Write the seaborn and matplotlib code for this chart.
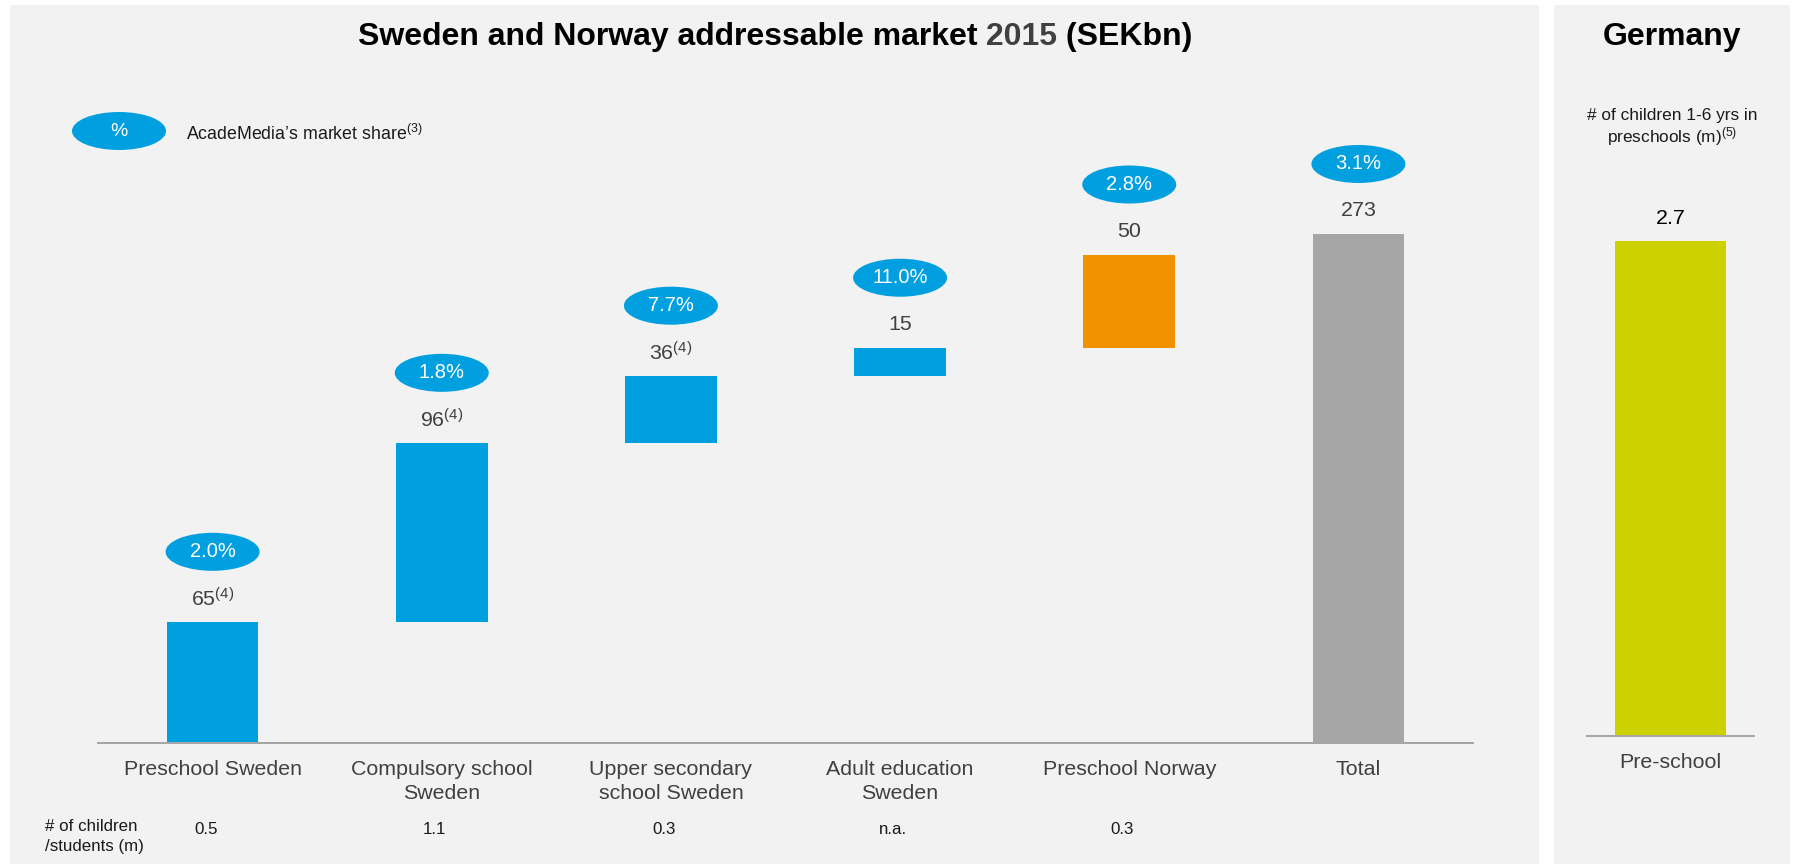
import numpy as np
import pandas as pd
import matplotlib
matplotlib.use("Agg")
import matplotlib.pyplot as plt
import matplotlib.transforms as mtransforms
from matplotlib.patches import Ellipse, Rectangle
import seaborn as sns

# ---- data -------------------------------------------------------------
categories = [
    "Preschool Sweden",
    "Compulsory school\nSweden",
    "Upper secondary\nschool Sweden",
    "Adult education\nSweden",
    "Preschool Norway",
    "Total",
]
market_sekbn = [65, 96, 36, 15, 50, 273]
value_notes = ["(4)", "(4)", "(4)", "", "", ""]
market_share = ["2.0%", "1.8%", "7.7%", "11.0%", "2.8%", "3.1%"]
students_m = ["0.5", "1.1", "0.3", "n.a.", "0.3", ""]

germany_category = ["Pre-school"]
germany_children_m = [2.7]

# ---- styling ----------------------------------------------------------
BLUE = "#009FE0"
ORANGE = "#F39200"
GREY_BAR = "#A6A6A6"
GREEN = "#CCD100"
PANEL_BG = "#F2F2F2"
AXIS_GREY = "#A6A6A6"
TEXT_GREY = "#404040"
TEXT_DARK = "#1A1A1A"
bar_colors = [BLUE, BLUE, BLUE, BLUE, ORANGE, GREY_BAR]

W, H, DPI = 1793, 864, 100
PT = 72.0 / DPI  # points per pixel

sns.set_theme(style="white")
plt.rcParams["font.family"] = ["Liberation Sans", "DejaVu Sans"]
plt.rcParams["mathtext.fontset"] = "custom"
plt.rcParams["mathtext.rm"] = "Liberation Sans"
plt.rcParams["mathtext.it"] = "Liberation Sans:italic"
plt.rcParams["mathtext.bf"] = "Liberation Sans:bold"


def fx(px):
    return px / W


def fy(py):
    # pixel row measured from the top edge -> figure fraction
    return 1.0 - py / H


fig = plt.figure(figsize=(W / DPI, H / DPI), dpi=DPI, facecolor="white")

# grey panel backgrounds (behind the axes)
fig.patches.append(Rectangle((fx(10), 0), fx(1529), 859 / H, transform=fig.transFigure,
                             facecolor=PANEL_BG, edgecolor="none", zorder=-10))
fig.patches.append(Rectangle((fx(1554), 0), fx(236), 859 / H, transform=fig.transFigure,
                             facecolor=PANEL_BG, edgecolor="none", zorder=-10))

# ---- waterfall axes ---------------------------------------------------
AX_L, AX_R, BASE_Y = 98, 1473, 743
Y_MAX = 380
PX_PER_UNIT = 1.8645
ax_h = Y_MAX * PX_PER_UNIT
ax = fig.add_axes([fx(AX_L), fy(BASE_Y), fx(AX_R - AX_L), ax_h / H])
ax.set_facecolor("none")

n = len(categories)
bottoms = list(np.concatenate([[0], np.cumsum(market_sekbn[:n - 2])])) + [0]
df = pd.DataFrame({"category": categories, "value": market_sekbn, "bottom": bottoms})

sns.barplot(data=df, x="category", y="value", hue="category", hue_order=categories,
            order=categories, palette=bar_colors, width=0.4, saturation=1,
            legend=False, ax=ax, edgecolor="none", linewidth=0)

# lift the floating bars onto the running total
for cont, b in zip(ax.containers, df["bottom"]):
    for patch in cont.patches:
        patch.set_y(b)

ax.set_xlim(-0.5, n - 0.5)
ax.set_ylim(0, Y_MAX)
ax.set_xlabel("")
ax.set_ylabel("")
ax.set_yticks([])
for side in ("left", "right", "top"):
    ax.spines[side].set_visible(False)
ax.spines["bottom"].set_color(AXIS_GREY)
ax.spines["bottom"].set_linewidth(2 * PT)
ax.tick_params(axis="x", length=0, pad=12.5, labelsize=15.4, labelcolor=TEXT_GREY)
for lbl in ax.get_xticklabels():
    lbl.set_linespacing(1.3)

px_per_x = (AX_R - AX_L) / n
ell_w = 94 / px_per_x
ell_h = 38 / PX_PER_UNIT

for i, row in df.iterrows():
    top = row["bottom"] + row["value"]
    note = value_notes[i]
    label = f"{row['value']}" + (f"$^{{{note}}}$" if note else "")
    ax.annotate(label, (i, top), xytext=(0, 23 * PT), textcoords="offset points",
                ha="center", va="center", fontsize=15.4, color=TEXT_GREY)
    cy = top + 70 / PX_PER_UNIT
    ax.add_patch(Ellipse((i, cy), ell_w, ell_h, facecolor=BLUE, edgecolor="none",
                         clip_on=False, zorder=3))
    ax.text(i, cy, market_share[i], ha="center", va="center", fontsize=14.5,
            color="white", zorder=4)

# number of children / students row
row_trans = mtransforms.blended_transform_factory(ax.transData, fig.transFigure)
for i, s in enumerate(students_m):
    if s:
        ax.text(i - 0.03, fy(829), s, transform=row_trans, ha="center", va="center",
                fontsize=12.2, color=TEXT_DARK)
fig.text(fx(45), fy(819), "# of children\n/students (m)", ha="left", va="top",
         fontsize=12.2, color=TEXT_DARK, linespacing=1.45)

# legend for the market-share bubbles
fig.patches.append(Ellipse((fx(119), fy(131)), 94 / W, 38 / H, transform=fig.transFigure,
                           facecolor=BLUE, edgecolor="none", zorder=2))
fig.text(fx(119), fy(131), "%", ha="center", va="center", fontsize=14, color="white", zorder=3)
fig.text(fx(186), fy(134), "AcadeMedia\u2019s market share$^{(3)}$", ha="left", va="center",
         fontsize=12.8, color=TEXT_DARK)

# title with a grey year
title_parts = [("Sweden and Norway addressable market", "black"),
               (" 2015", TEXT_GREY),
               (" (SEKbn)", "black")]
texts = []
first = fig.text(0, fy(45), title_parts[0][0], ha="left", va="baseline",
                 fontsize=23, fontweight="bold", color=title_parts[0][1])
texts.append(first)
for txt, col in title_parts[1:]:
    t = fig.text(0, 0, txt, fontsize=23, fontweight="bold", color=col, ha="left", va="bottom")
    texts.append(t)

fig.canvas.draw()
renderer = fig.canvas.get_renderer()
widths = [t.get_window_extent(renderer).width for t in texts]
x0 = 775 - sum(widths) / 2
base = first.get_window_extent(renderer).y0
x = x0
for t, w in zip(texts, widths):
    t.set_transform(mtransforms.IdentityTransform())
    t.set_position((x, base))
    t.set_va("bottom")
    x += w

# ---- Germany panel ----------------------------------------------------
G_L, G_R, G_BASE = 1587, 1754, 736
G_YMAX = 3.5
G_PX_PER_UNIT = 183.3
gax = fig.add_axes([fx(G_L), fy(G_BASE), fx(G_R - G_L), G_YMAX * G_PX_PER_UNIT / H])
gax.set_facecolor("none")
gdf = pd.DataFrame({"category": germany_category, "value": germany_children_m})
sns.barplot(data=gdf, x="category", y="value", color=GREEN, width=0.67, saturation=1,
            ax=gax, edgecolor="none", linewidth=0)
gax.set_xlim(-0.5, 0.5)
gax.set_ylim(0, G_YMAX)
gax.set_xlabel("")
gax.set_ylabel("")
gax.set_yticks([])
for side in ("left", "right", "top"):
    gax.spines[side].set_visible(False)
gax.spines["bottom"].set_color(AXIS_GREY)
gax.spines["bottom"].set_linewidth(2 * PT)
gax.tick_params(axis="x", length=0, pad=12.5, labelsize=15.4, labelcolor=TEXT_GREY)
for i, v in enumerate(germany_children_m):
    gax.annotate(f"{v}", (i, v), xytext=(0, 23 * PT), textcoords="offset points",
                 ha="center", va="center", fontsize=15.4, color="black")

fig.text(fx(1672), fy(45), "Germany", ha="center", va="baseline", fontsize=23,
         fontweight="bold", color="black")
fig.text(fx(1672), fy(128), "# of children 1-6 yrs in\npreschools (m)$^{(5)}$",
         ha="center", va="center", fontsize=12.4, color=TEXT_DARK, linespacing=1.1)

fig.savefig("out.png", dpi=DPI, facecolor="white")
